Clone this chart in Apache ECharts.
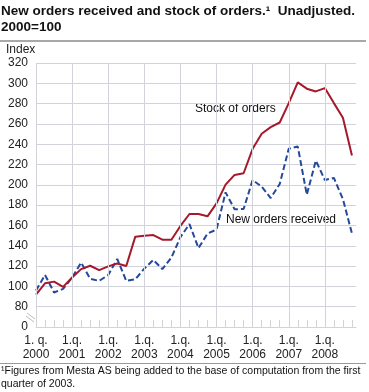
<!DOCTYPE html>
<html>
<head>
<meta charset="utf-8">
<script src="https://cdn.jsdelivr.net/npm/echarts@6/dist/echarts.min.js"></script>
<style>
html,body{margin:0;padding:0;background:#fff;}
#c{width:369px;height:392px;}
</style>
</head>
<body>
<div id="c"></div>
<script>
// Quarter index 0 = 1st quarter 2000 ... 35 = 4th quarter 2008
const quarters = Array.from({length: 36}, (_, i) => (2000 + Math.floor(i / 4)) + 'Q' + (i % 4 + 1));
const stockOfOrders = [92, 103, 104.7, 99.5, 108.7, 117, 120.3, 116, 119.7, 122.5, 120, 149,
  149.8, 150.5, 146, 146, 159.5, 171.3, 171.3, 169, 181.8, 200.2, 209.8, 211.4,
  235.5, 250.3, 256.8, 261.4, 280.5, 300.9, 294.7, 292, 295.3, 280.5, 266, 229];
const newOrders = [96, 111.3, 94, 97.5, 108.7, 123.5, 107.5, 105.4, 111.2, 127, 105.4, 107,
  117.5, 126, 117, 128.4, 148.5, 161.4, 137.7, 152, 156, 192.6, 176, 176.2,
  204.8, 198.2, 187, 200.9, 235.5, 237.7, 190.3, 223.9, 204.8, 206.8, 186.1, 152.1];
const yearTickIndex = [0, 4, 8, 12, 16, 20, 24, 28, 32];
const xTickLabels = ['1. q.\n2000', '1.q.\n2001', '1.q.\n2002', '1.q.\n2003', '1.q.\n2004',
  '1.q.\n2005', '1.q.\n2006', '1.q.\n2007', '1.q.\n2008'];
const yTickValues = [60, 80, 100, 120, 140, 160, 180, 200, 220, 240, 260, 280, 300, 320];
const yTickLabels = ['0', '80', '100', '120', '140', '160', '180', '200', '220', '240', '260', '280', '300', '320'];

const FONT = '"Liberation Sans", Arial, Helvetica, sans-serif';
const GRID = '#d2d2da';

const chart = echarts.init(document.getElementById('c'), null, {renderer: 'canvas'});
chart.setOption({
  animation: false,
  backgroundColor: '#fff',
  title: {
    text: 'New orders received and stock of orders.\u00b9  Unadjusted.\n2000=100',
    left: 1, top: 3, padding: 0,
    textStyle: {fontFamily: FONT, fontSize: 13.5, fontWeight: 'bold', color: '#111', lineHeight: 16}
  },
  grid: {left: 36, right: 13, top: 63, bottom: 65, containLabel: false},
  xAxis: {
    type: 'value', min: 0, max: 35.45, interval: 1,
    axisLine: {show: true, lineStyle: {color: GRID, width: 1}},
    axisTick: {show: true, inside: true, length: 7, lineStyle: {color: GRID},
      customValues: quarters.map((q, i) => i)},
    axisLabel: {
      customValues: yearTickIndex,
      formatter: v => xTickLabels[yearTickIndex.indexOf(v)] || '',
      fontFamily: FONT, fontSize: 12, color: '#222', lineHeight: 14, margin: 7
    },
    splitLine: {show: false}
  },
  yAxis: {
    type: 'value', min: 60, max: 320, interval: 20,
    axisLine: {show: false},
    axisTick: {show: false},
    axisLabel: {
      formatter: v => yTickLabels[yTickValues.indexOf(v)] || '',
      fontFamily: FONT, fontSize: 12, color: '#222', margin: 8
    },
    splitLine: {show: true, lineStyle: {color: GRID, width: 1}}
  },
  series: [
    {
      type: 'line', data: [], z: 1, silent: true,
      markLine: {
        silent: true, symbol: ['none', 'none'], label: {show: false},
        lineStyle: {color: GRID, type: 'solid', width: 1},
        emphasis: {disabled: true},
        data: yearTickIndex.map(x => ({xAxis: x}))
      }
    },
    {
      name: 'Stock of orders', type: 'line', z: 3,
      data: stockOfOrders.map((v, i) => [i, v]),
      symbol: 'none', lineStyle: {color: '#a5192b', width: 2}, itemStyle: {color: '#a5192b'}
    },
    {
      name: 'New orders received', type: 'line', z: 2,
      data: newOrders.map((v, i) => [i, v]),
      symbol: 'none', lineStyle: {color: '#23489c', width: 2, type: [6, 3]}, itemStyle: {color: '#23489c'}
    }
  ],
  graphic: {
    elements: [
      {type: 'rect', id: 'sepTop', z: 100, x: 0, y: 40, shape: {x: 0, y: 0, width: 366, height: 2}, style: {fill: '#a8a8a8'}},
      {type: 'text', id: 'idx', x: 6, y: 44, style: {text: 'Index', font: '12px ' + FONT, fill: '#222'}},
      {type: 'line', id: 'brk1', shape: {x1: 27, y1: 313, x2: 35, y2: 319}, style: {stroke: '#bbb', lineWidth: 1}},
      {type: 'line', id: 'brk2', shape: {x1: 26, y1: 316, x2: 34, y2: 322}, style: {stroke: '#bbb', lineWidth: 1}},
      {type: 'text', id: 'lab1', x: 195, y: 103, style: {text: 'Stock of orders', font: '12px ' + FONT, fill: '#111'}},
      {type: 'text', id: 'lab2', x: 226, y: 214, style: {text: 'New orders received', font: '12px ' + FONT, fill: '#111'}},
      {type: 'rect', id: 'sepBot', z: 100, x: 0, y: 363, shape: {x: 0, y: 0, width: 366, height: 1}, style: {fill: '#999999'}},
      {type: 'text', id: 'foot', x: 1, y: 365, style: {
        text: '\u00b9Figures from Mesta AS being added to the base of computation from the first\nquarter of 2003.',
        font: '10.5px ' + FONT, fill: '#111', lineHeight: 13}}
    ]
  }
});
</script>
</body>
</html>
